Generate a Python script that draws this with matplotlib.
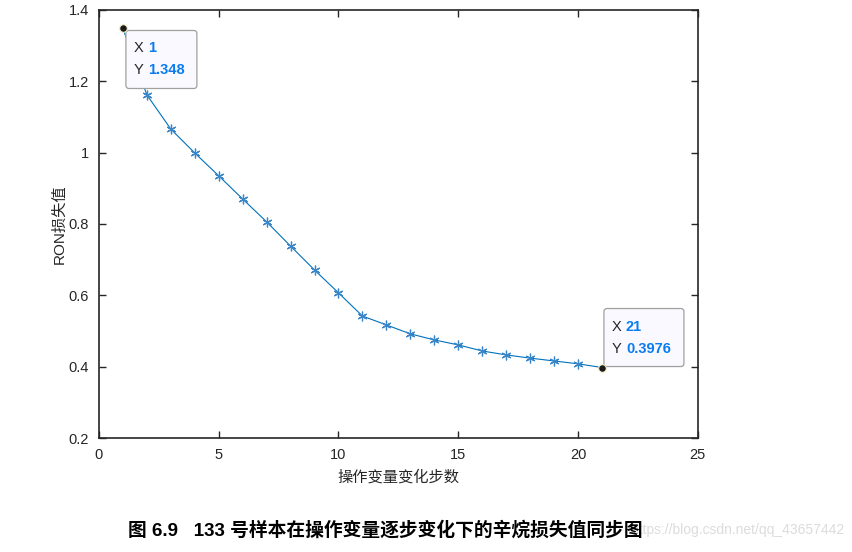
import matplotlib.pyplot as plt
import matplotlib.transforms as mtransforms
from matplotlib.patches import FancyBboxPatch

plt.rcParams['font.family'] = ['Liberation Sans', 'Noto Sans CJK SC', 'DejaVu Sans']

# ---------- DATA ----------
steps = list(range(1, 22))
ron_loss = [1.348, 1.162, 1.066, 0.999, 0.935, 0.870, 0.806, 0.738, 0.671,
            0.607, 0.542, 0.517, 0.492, 0.475, 0.461, 0.444, 0.433, 0.424,
            0.416, 0.408, 0.3976]
xticks = [0, 5, 10, 15, 20, 25]
yticks = [0.2, 0.4, 0.6, 0.8, 1.0, 1.2, 1.4]
ytick_labels = ['0.2', '0.4', '0.6', '0.8', '1', '1.2', '1.4']

# ---------- PLOT ----------
fig = plt.figure(figsize=(8.53, 5.52), dpi=100)
ax = fig.add_axes([0.116, 0.2065, 0.702, 0.7755])

# star markers everywhere except under the two data tips
ax.plot(steps, ron_loss, color='#0072BD', lw=0.8, marker=(6, 2, 0),
        markersize=7, markeredgewidth=0.9, markeredgecolor='#3a86c8',
        markevery=list(range(1, len(steps) - 1)))

ax.set_xlim(0, 25)
ax.set_ylim(0.2, 1.4)

# data tips at first and last point (box offsets in pixels from the point)
tips = [(0, 3, -2), (len(steps) - 1, 2, 59)]
for i, bx, by in tips:
    x, y = steps[i], ron_loss[i]
    # transform: inches relative to the data point (1 px = 0.01 in)
    tr = fig.dpi_scale_trans + mtransforms.ScaledTranslation(x, y, ax.transData)
    w = 0.71 if i == 0 else 0.80
    box = FancyBboxPatch((bx / 100, (by - 58) / 100), w, 0.58,
                         boxstyle='round,pad=0,rounding_size=0.03',
                         fc='#f9f9ff', ec='#a0a0a0', lw=0.9,
                         transform=tr, zorder=6, clip_on=False)
    ax.add_patch(box)
    ax.plot(x, y, 'o', color='#1a1a1a', markersize=5.5,
            markeredgecolor='#f4f1c8', markeredgewidth=0.8, zorder=7,
            clip_on=False)
    tx = (bx + 8) / 100
    vx = (bx + 22) / 100
    for row, (name, val) in enumerate([('X', f'{x}'), ('Y', f'{y:g}')]):
        ty = (by - 18 - row * 22) / 100
        ax.text(tx, ty, name, transform=tr, fontsize=10.5, color='#262626',
                va='center', ha='left', zorder=8)
        ax.text(vx, ty, val, transform=tr, fontsize=10.5, color='#0a7cf0',
                fontweight='bold', va='center', ha='left', zorder=8)

ax.set_xticks(xticks)
ax.set_yticks(yticks)
ax.set_yticklabels(ytick_labels)
ax.tick_params(direction='in', top=True, right=True, length=5, width=1,
               labelsize=10.5, colors='#262626', pad=7)
for s in ax.spines.values():
    s.set_linewidth(1.2)
    s.set_color('#262626')

ax.set_xlabel('操作变量变化步数', fontsize=11, color='#262626', labelpad=6)
ax.set_ylabel('RON损失值', fontsize=11, color='#262626', labelpad=2)

fig.text(0.99, 0.04, 'https://blog.csdn.net/qq_43657442', ha='right',
         va='center', fontsize=10, color='#dcdcdc')
fig.text(0.452, 0.04, '图 6.9   133 号样本在操作变量逐步变化下的辛烷损失值同步图',
         ha='center', va='center', fontsize=13.5, fontweight='bold', color='black')

plt.savefig('out.png', dpi=100)
